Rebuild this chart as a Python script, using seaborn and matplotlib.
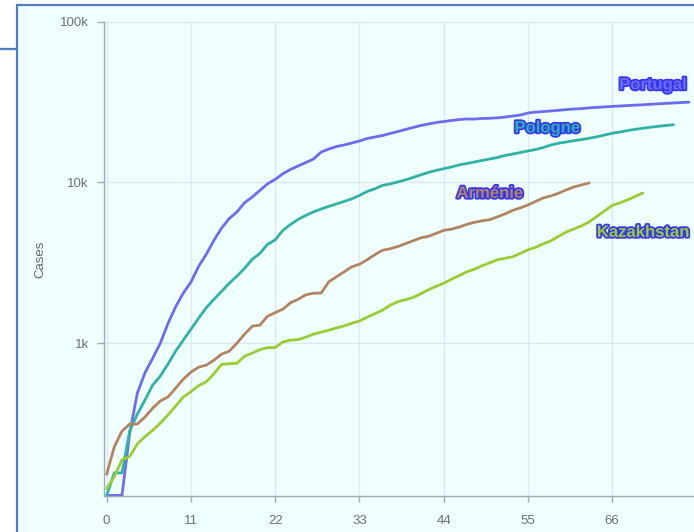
"""
Cumulative cases since the 100th case, log scale, for four countries.
"""
import numpy as np
import pandas as pd
import matplotlib.pyplot as plt
import matplotlib.patheffects as pe
from matplotlib.patches import Rectangle
from matplotlib.lines import Line2D
import seaborn as sns

# --- data ---
portugal = [113, 113, 113, 275, 488, 655, 804, 1000, 1325, 1683, 2050, 2400, 3005,
            3570, 4365, 5200, 5960, 6550, 7480, 8110, 8920, 9810, 10450, 11330,
            12050, 12660, 13300, 13990, 15460, 16140, 16730, 17100, 17590, 18100,
            18760, 19170, 19580, 20150, 20740, 21350, 21980, 22600, 23090, 23590,
            23930, 24270, 24620, 24800, 24800, 25000, 25080, 25230, 25510, 25880,
            26250, 27030, 27400, 27600, 27850, 28100, 28390, 28620, 28810, 29110,
            29300, 29510, 29720, 29900, 30080, 30260, 30430, 30630, 30850, 31040,
            31220, 31400, 31600]
pologne = [113, 156, 156, 284, 362, 443, 548, 624, 741, 891, 1044, 1222, 1430, 1660,
           1875, 2100, 2360, 2610, 2920, 3325, 3620, 4120, 4395, 5030, 5480, 5890,
           6240, 6560, 6840, 7100, 7350, 7620, 7900, 8300, 8790, 9120, 9580, 9790,
           10070, 10370, 10740, 11140, 11540, 11880, 12170, 12480, 12850, 13120,
           13400, 13700, 13990, 14290, 14720, 15030, 15350, 15700, 16030, 16490,
           17100, 17540, 17850, 18190, 18490, 18840, 19230, 19720, 20230, 20590,
           21040, 21400, 21740, 22050, 22340, 22600, 22860]
armenie = [153, 227, 284, 314, 314, 347, 394, 437, 462, 525, 597, 661, 709, 730, 784,
           855, 891, 1000, 1138, 1276, 1294, 1472, 1549, 1626, 1786, 1875, 2000, 2045,
           2052, 2410, 2588, 2780, 2987, 3097, 3303, 3548, 3784, 3866, 3990, 4160,
           4335, 4520, 4620, 4820, 5035, 5118, 5272, 5480, 5646, 5770, 5866, 6107,
           6372, 6700, 6946, 7245, 7621, 8014, 8245, 8570, 8986, 9380, 9645, 9930]
kazakhstan = [125, 148, 188, 197, 236, 262, 287, 318, 357, 406, 462, 499, 545, 575,
              645, 738, 745, 750, 830, 867, 912, 938, 940, 1018, 1044, 1052, 1090,
              1138, 1171, 1204, 1244, 1280, 1330, 1376, 1449, 1524, 1603, 1722, 1811,
              1864, 1923, 2030, 2148, 2258, 2359, 2500, 2627, 2780, 2883, 3030, 3162,
              3303, 3376, 3447, 3620, 3808, 3948, 4150, 4335, 4622, 4915, 5140, 5370,
              5688, 6152, 6654, 7195, 7465, 7786, 8185, 8590]

series = {
    "Portugal": portugal,
    "Pologne": pologne,
    "Arménie": armenie,
    "Kazakhstan": kazakhstan,
}
x_ticks = [0, 11, 22, 33, 44, 55, 66]
y_ticks = [1000, 10000, 100000]
y_tick_labels = ["1k", "10k", "100k"]

couleurs = {
    "Portugal": "#6c6cf0",
    "Pologne": "#2fb3a9",
    "Arménie": "#b3845f",
    "Kazakhstan": "#9acd32",
}
# label anchors (day, cases)
etiquettes = {
    "Portugal": (71.3, 40400),
    "Pologne": (57.5, 21800),
    "Arménie": (50.0, 8550),
    "Kazakhstan": (70.0, 4890),
}

# long table for seaborn
filas = []
for pays, valeurs in series.items():
    for jour, v in enumerate(valeurs):
        filas.append({"day": jour, "cases": v, "country": pays})
df = pd.DataFrame(filas)

sns.set_style("white")
plt.rcParams['font.family'] = ['Liberation Sans', 'DejaVu Sans']

W, H = 694, 532
fig = plt.figure(figsize=(W / 100, H / 100), dpi=100)
fig.patch.set_facecolor("white")

# outer frame of the page
fig.patches.append(Rectangle((17 / W, -0.05), 1.2, 1 - 5 / H + 0.05,
                             transform=fig.transFigure, facecolor="#f0ffff",
                             edgecolor="#4f7fbf", linewidth=1.6, zorder=-5))
fig.lines.append(Line2D([0, 17 / W], [1 - 49 / H, 1 - 49 / H],
                        transform=fig.transFigure, color="#4f7fbf", linewidth=1.6,
                        zorder=-5))

# plot area: left 104px, bottom 496px, top 21.7px, 7.66 px per day
ax_left, ax_bottom, ax_top = 104, 496, 21.7
x_min, x_max = -0.35, 80
ax = fig.add_axes([ax_left / W, (H - ax_bottom) / H,
                   (x_max - x_min) * 7.66 / W, (ax_bottom - ax_top) / H])
ax.set_facecolor("none")
ax.set_zorder(1)

sns.lineplot(data=df, x="day", y="cases", hue="country", palette=couleurs,
             estimator=None, linewidth=2, legend=False, ax=ax)

ax.set_yscale("log")
ax.set_xlim(x_min, x_max)
ax.set_ylim(112, 100000)
ax.set_xticks(x_ticks)
ax.set_xticklabels([str(t) for t in x_ticks])
ax.set_yticks(y_ticks)
ax.set_yticklabels(y_tick_labels)
ax.yaxis.set_minor_locator(plt.NullLocator())

ax.grid(True, color="#dde6f6", linewidth=1)
for lado in ["top", "right"]:
    ax.spines[lado].set_visible(False)
for lado in ["left", "bottom"]:
    ax.spines[lado].set_color("#a0a8ba")
    ax.spines[lado].set_linewidth(1)

ax.tick_params(axis="both", colors="#a0a8ba", labelcolor="#6f6f6f", labelsize=9.5)
ax.tick_params(axis="x", length=4.5, width=1, pad=9, bottom=True)
ax.tick_params(axis="y", length=5, width=1, pad=6, left=True)

ax.set_xlabel("")
ax.set_ylabel("Cases", color="#666666", fontsize=9.5, labelpad=10)

# series name labels
for pays, (xj, yc) in etiquettes.items():
    ax.text(xj, yc, pays, color=couleurs[pays], fontsize=12, fontweight="bold",
            ha="center", va="center", clip_on=False,
            path_effects=[pe.withStroke(linewidth=2.5, foreground="#3535f5")])

plt.savefig("out.png", dpi=100)
plt.close()
